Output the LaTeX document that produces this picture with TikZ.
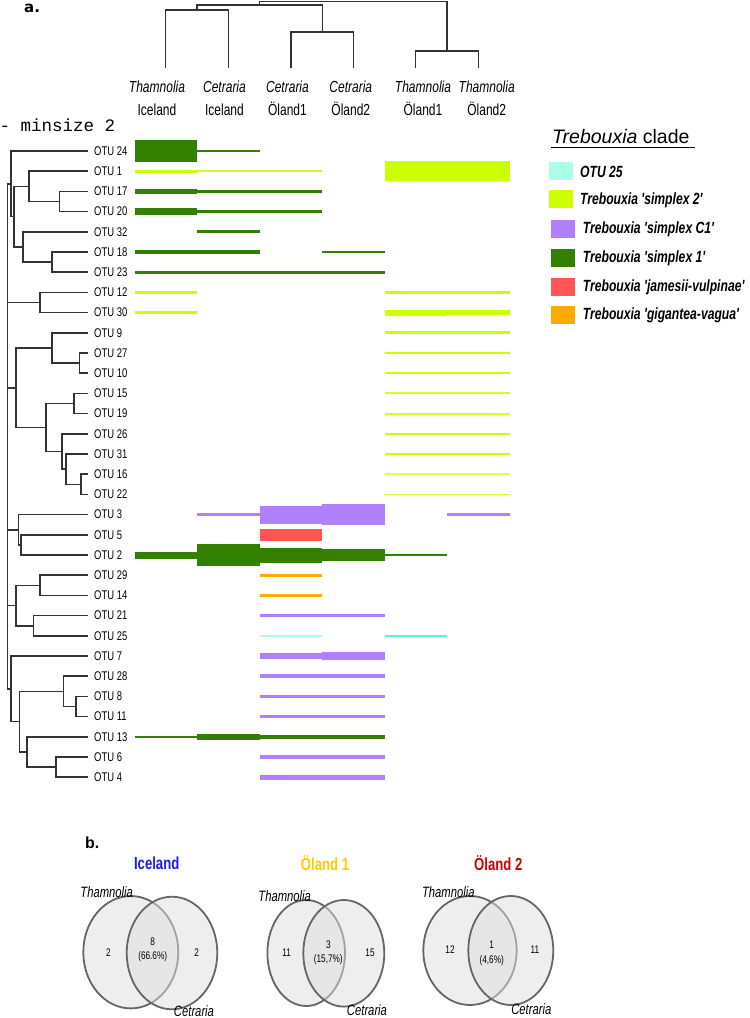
\documentclass[tikz,border=0pt]{standalone}
\usepackage{fontspec}
\setmainfont{Liberation Sans}
\newfontfamily\narrow{Liberation Sans}[FakeStretch=0.75,Ligatures=TeXOff]
\newfontfamily\monofont{Liberation Mono}
\newfontfamily\dejavu{DejaVu Sans}
\usetikzlibrary{positioning,calc}

\definecolor{simplexone}{HTML}{337F00}
\definecolor{simplextwo}{HTML}{CCFF00}
\definecolor{simplexcone}{HTML}{B080FF}
\definecolor{jamesii}{HTML}{FF5555}
\definecolor{gigantea}{HTML}{FFAA00}
\definecolor{otuturq}{HTML}{AAFFEA}
\definecolor{otuturqd}{HTML}{5CF5D5}
\definecolor{treeline}{HTML}{333333}
\definecolor{iceblue}{HTML}{1A1AF0}
\definecolor{olandyellow}{HTML}{FFCC00}
\definecolor{olandred}{HTML}{D00000}

\tikzset{
  branch/.style={draw=treeline, line width=1.6pt},
  otu/.style={anchor=west, inner sep=0pt, font=\narrow\fontsize{12.6}{12.6}\selectfont},
  genus/.style={anchor=base, inner sep=0pt, font=\narrow\itshape\fontsize{16}{16}\selectfont},
  site/.style={anchor=base, inner sep=0pt, font=\narrow\fontsize{16}{16}\selectfont},
  swatch/.style={minimum width=24pt, minimum height=18pt, inner sep=0pt},
  clade/.style={anchor=west, inner sep=0pt, font=\narrow\bfseries\itshape\fontsize{16.2}{16.2}\selectfont},
  venn/.style={fill=black!13, fill opacity=0.5, draw=black!60, line width=1.8pt},
  count/.style={inner sep=0pt, align=center, font=\narrow\fontsize{11}{14.5}\selectfont},
  place/.style={inner sep=0pt, font=\narrow\bfseries\fontsize{17.5}{17.5}\selectfont},
  vgenus/.style={anchor=base, inner sep=0pt, font=\narrow\itshape\fontsize{15}{15}\selectfont},
}

% one coloured bar: otu, from column edge, to column edge, thickness, colour
\newcommand{\otubar}[5]{\fill[#5] ($(c#2 |- t#1)+(0,-#4/2)$) rectangle ($(c#3 |- t#1)+(0,#4/2)$);}

\begin{document}
\begin{tikzpicture}[x=1pt,y=-1pt]
\useasboundingbox (0,0) rectangle (750,1018);

%% panel a
\node[anchor=base west, inner sep=0pt, font=\dejavu\bfseries\fontsize{15}{15}\selectfont] (pa) at (24,12) {a.};
\node[anchor=base west, inner sep=0pt, font=\monofont\fontsize{17.5}{17.5}\selectfont] (minsize) at (-0.5,131.7) {- minsize 2};

% host dendrogram
\foreach \k/\x/\g/\s/\lx in {ThIce/165.7/Thamnolia/Iceland/157, CeIce/228.3/Cetraria/Iceland/224.5,
    CeOlA/291/Cetraria/Öland1/287.5, CeOlB/353.3/Cetraria/Öland2/350.8,
    ThOlA/415.3/Thamnolia/Öland1/423, ThOlB/478.3/Thamnolia/Öland2/486.7}{
  \coordinate (h\k) at (\x,68.3);
  \node[genus] (g\k) at (\lx,92.7) {\g};
  \node[site] (s\k) at ([yshift=-22.3pt]g\k.base) {\s};
}
\coordinate (mIce) at (197,10);
\coordinate (mCe) at (322.2,32);
\coordinate (mLeft) at (259.6,5);
\coordinate (mTh) at (446.8,51);
\coordinate (mTop) at (353.2,1.7);
\foreach \a/\b in {mIce/hThIce, mIce/hCeIce, mCe/hCeOlA, mCe/hCeOlB, mLeft/mIce, mLeft/mCe,
    mTh/hThOlA, mTh/hThOlB, mTop/mLeft, mTop/mTh}
  \draw[branch, line width=1.4pt] (\a) -| (\b);

% OTU tips and labels
\foreach \o [count=\i from 0] in {24,1,17,20,32,18,23,12,30,9,27,10,15,19,26,31,16,22,3,5,2,29,14,21,25,7,28,8,11,13,6,4}{
  \coordinate (t\o) at (88,{151+20.2*\i});
  \node[otu] (l\o) at ([xshift=6pt]t\o) {OTU \o};
}

% OTU tree
\coordinate (k17) at (59.3,201.5);
\coordinate (k1) at (29,186.35);
\coordinate (k18) at (51.7,262.1);
\coordinate (k32) at (22.7,246.95);
\coordinate (kB) at (13.7,216.65);
\coordinate (kA) at (11,183.8);
\coordinate (k12) at (40,302.5);
\coordinate (k27) at (79.3,363.1);
\coordinate (k9) at (51.7,347.95);
\coordinate (k15) at (74,403.5);
\coordinate (k16) at (80.7,484.3);
\coordinate (k31) at (66,469.15);
\coordinate (k26) at (61.7,451.5);
\coordinate (kE2) at (46,427.5);
\coordinate (kE) at (15.7,387.7);
\coordinate (k5) at (20.7,544.9);
\coordinate (k3) at (18.3,529.75);
\coordinate (k29) at (40,585.3);
\coordinate (k21) at (33.3,625.7);
\coordinate (kG) at (15.7,605.5);
\coordinate (k8) at (76,706.5);
\coordinate (k28) at (63.3,691.35);
\coordinate (k6) at (56,767.1);
\coordinate (k13) at (26.7,751.95);
\coordinate (kH1) at (19.3,721.65);
\coordinate (kH) at (11,688.8);
\coordinate (root) at (7.3,436.3);
\foreach \a/\b in {k17/t17, k17/t20, k1/t1, k1/k17, k18/t18, k18/t23, k32/t32, k32/k18,
    kB/k1, kB/k32, kA/t24, kA/kB, k12/t12, k12/t30,
    k27/t27, k27/t10, k9/t9, k9/k27, k15/t15, k15/t19, k16/t16, k16/t22, k31/t31, k31/k16,
    k26/t26, k26/k31, kE2/k15, kE2/k26, kE/k9, kE/kE2,
    k5/t5, k5/t2, k3/t3, k3/k5, k29/t29, k29/t14, k21/t21, k21/t25, kG/k29, kG/k21,
    k8/t8, k8/t11, k28/t28, k28/k8, k6/t6, k6/t4, k13/t13, k13/k6, kH1/k28, kH1/k13,
    kH/t7, kH/kH1, root/kA, root/k12, root/kE, root/k3, root/kG, root/kH}
  \draw[branch] (\a) |- (\b);

% column edges
\foreach \x [count=\j] in {134.5,197,259.5,322,384.5,447,509.5}
  \coordinate (c\j) at (\x,0);

% bars
\otubar{24}{1}{2}{22}{simplexone}
\otubar{24}{2}{3}{2.8}{simplexone}
\otubar{1}{1}{2}{2.8}{simplextwo}
\otubar{1}{2}{4}{1.8}{simplextwo!90}
\otubar{1}{5}{7}{20.5}{simplextwo}
\otubar{17}{1}{2}{5.5}{simplexone}
\otubar{17}{2}{4}{2.8}{simplexone}
\otubar{20}{1}{2}{6.5}{simplexone}
\otubar{20}{2}{4}{2.6}{simplexone}
\otubar{32}{2}{3}{3}{simplexone}
\otubar{18}{1}{3}{3.2}{simplexone}
\otubar{18}{4}{5}{2.8}{simplexone}
\otubar{23}{1}{4}{3.4}{simplexone}
\otubar{23}{4}{5}{2.8}{simplexone}
\otubar{12}{1}{2}{3}{simplextwo}
\otubar{12}{5}{7}{3.2}{simplextwo}
\otubar{30}{1}{2}{3}{simplextwo}
\otubar{30}{5}{6}{5.8}{simplextwo}
\otubar{30}{6}{7}{5}{simplextwo}
\otubar{9}{5}{7}{3}{simplextwo}
\otubar{27}{5}{7}{2.4}{simplextwo}
\otubar{10}{5}{7}{2.4}{simplextwo}
\otubar{15}{5}{7}{2}{simplextwo!85}
\otubar{19}{5}{7}{2}{simplextwo!85}
\otubar{26}{5}{7}{1.8}{simplextwo}
\otubar{31}{5}{7}{1.8}{simplextwo}
\otubar{16}{5}{7}{1.8}{simplextwo!70}
\otubar{22}{5}{7}{1.5}{simplextwo!75}
\otubar{3}{2}{3}{3.5}{simplexcone}
\otubar{3}{3}{4}{18}{simplexcone}
\otubar{3}{4}{5}{21}{simplexcone}
\otubar{3}{6}{7}{3.2}{simplexcone}
\otubar{5}{3}{4}{11.7}{jamesii}
\otubar{2}{1}{2}{7}{simplexone}
\otubar{2}{2}{3}{21.7}{simplexone}
\otubar{2}{3}{4}{15}{simplexone}
\otubar{2}{4}{5}{11.7}{simplexone}
\otubar{2}{5}{6}{2.6}{simplexone}
\otubar{29}{3}{4}{3}{gigantea}
\otubar{14}{3}{4}{3}{gigantea}
\otubar{21}{3}{5}{3}{simplexcone}
\otubar{25}{3}{4}{1.8}{otuturq}
\otubar{25}{5}{6}{2.2}{otuturqd}
\otubar{7}{3}{4}{6.7}{simplexcone}
\otubar{7}{4}{5}{8}{simplexcone}
\otubar{28}{3}{5}{3.5}{simplexcone}
\otubar{8}{3}{5}{3.5}{simplexcone}
\otubar{11}{3}{5}{3.5}{simplexcone}
\otubar{13}{1}{2}{2.6}{simplexone}
\otubar{13}{2}{3}{6}{simplexone}
\otubar{13}{3}{4}{4.2}{simplexone}
\otubar{13}{4}{5}{3.6}{simplexone}
\otubar{6}{3}{5}{4.2}{simplexcone}
\otubar{4}{3}{5}{4.8}{simplexcone}

% legend
\node[anchor=base west, inner sep=0pt, font=\fontsize{19.5}{19.5}\selectfont] (ktitle) at (552,143) {\itshape Trebouxia\upshape\ clade};
\draw[line width=1.6pt] (551,147.5) -- (695,147.5);
\node[swatch, fill=otuturq] (s25) at (561,170.5) {};
\node[swatch, fill=simplextwo] (sS2) at (561,199.2) {};
\node[swatch, fill=simplexcone] (sC1) at (562.5,228.5) {};
\node[swatch, fill=simplexone] (sS1) at (562.5,257.5) {};
\node[swatch, fill=jamesii] (sJV) at (562.5,286.8) {};
\node[swatch, fill=gigantea] (sGV) at (562.5,314.5) {};
\node[clade] (k25) at (580,172.3) {OTU 25};
\node[clade] (kS2) at (580,200.7) {Trebouxia 'simplex 2'};
\node[clade] (kC1) at (582.7,229.3) {Trebouxia 'simplex C1'};
\node[clade] (kS1) at (582.7,258.3) {Trebouxia 'simplex 1'};
\node[clade] (kJV) at (582.7,287.3) {Trebouxia 'jamesii-vulpinae'};
\node[clade] (kGV) at (582.7,315) {Trebouxia 'gigantea-vagua'};

%% panel b
\node[anchor=base west, inner sep=0pt, font=\bfseries\fontsize{16}{16}\selectfont] (pb) at (85,848.3) {b.};

% Iceland
\node[place, text=iceblue] (tIce) at (156.7,863.3) {Iceland};
\draw[venn] (130.8,952.2) ellipse [x radius=47.5pt, y radius=56.2pt];
\draw[venn] (172,953) ellipse [x radius=45.3pt, y radius=56.3pt];
\node[vgenus] (vThIce) at (106.7,897.3) {Thamnolia};
\node[vgenus] (vCeIce) at (194,1016.7) {Cetraria};
\node[count] (nThIce) at (108.3,952.7) {2};
\node[count] (nBoIce) at (152.7,949.7) {8\\(66.6\%)};
\node[count] (nCeIce) at (196.7,952.7) {2};

% Oland 1
\node[place, text=olandyellow] (tOlA) at (325,863.3) {Öland 1};
\draw[venn] (306.2,953) ellipse [x radius=38.8pt, y radius=53pt];
\draw[venn] (343.8,953.3) ellipse [x radius=40.5pt, y radius=53.3pt];
\node[vgenus] (vThOlA) at (284.7,901) {Thamnolia};
\node[vgenus] (vCeOlA) at (367,1015) {Cetraria};
\node[count] (nThOlA) at (286.7,952.7) {11};
\node[count] (nBoOlA) at (328.3,952.8) {3\\(15,7\%)};
\node[count] (nCeOlA) at (370,952.7) {15};

% Oland 2
\node[place, text=olandred] (tOlB) at (498.3,863.3) {Öland 2};
\draw[venn] (470,950.5) ellipse [x radius=46.7pt, y radius=54.5pt];
\draw[venn] (510.8,950.5) ellipse [x radius=42.5pt, y radius=54.5pt];
\node[vgenus] (vThOlB) at (448.3,897.3) {Thamnolia};
\node[vgenus] (vCeOlB) at (531.3,1014.3) {Cetraria};
\node[count] (nThOlB) at (450,950) {12};
\node[count] (nBoOlB) at (491.7,953.3) {1\\(4,6\%)};
\node[count] (nCeOlB) at (535,950) {11};
\end{tikzpicture}
\end{document}
